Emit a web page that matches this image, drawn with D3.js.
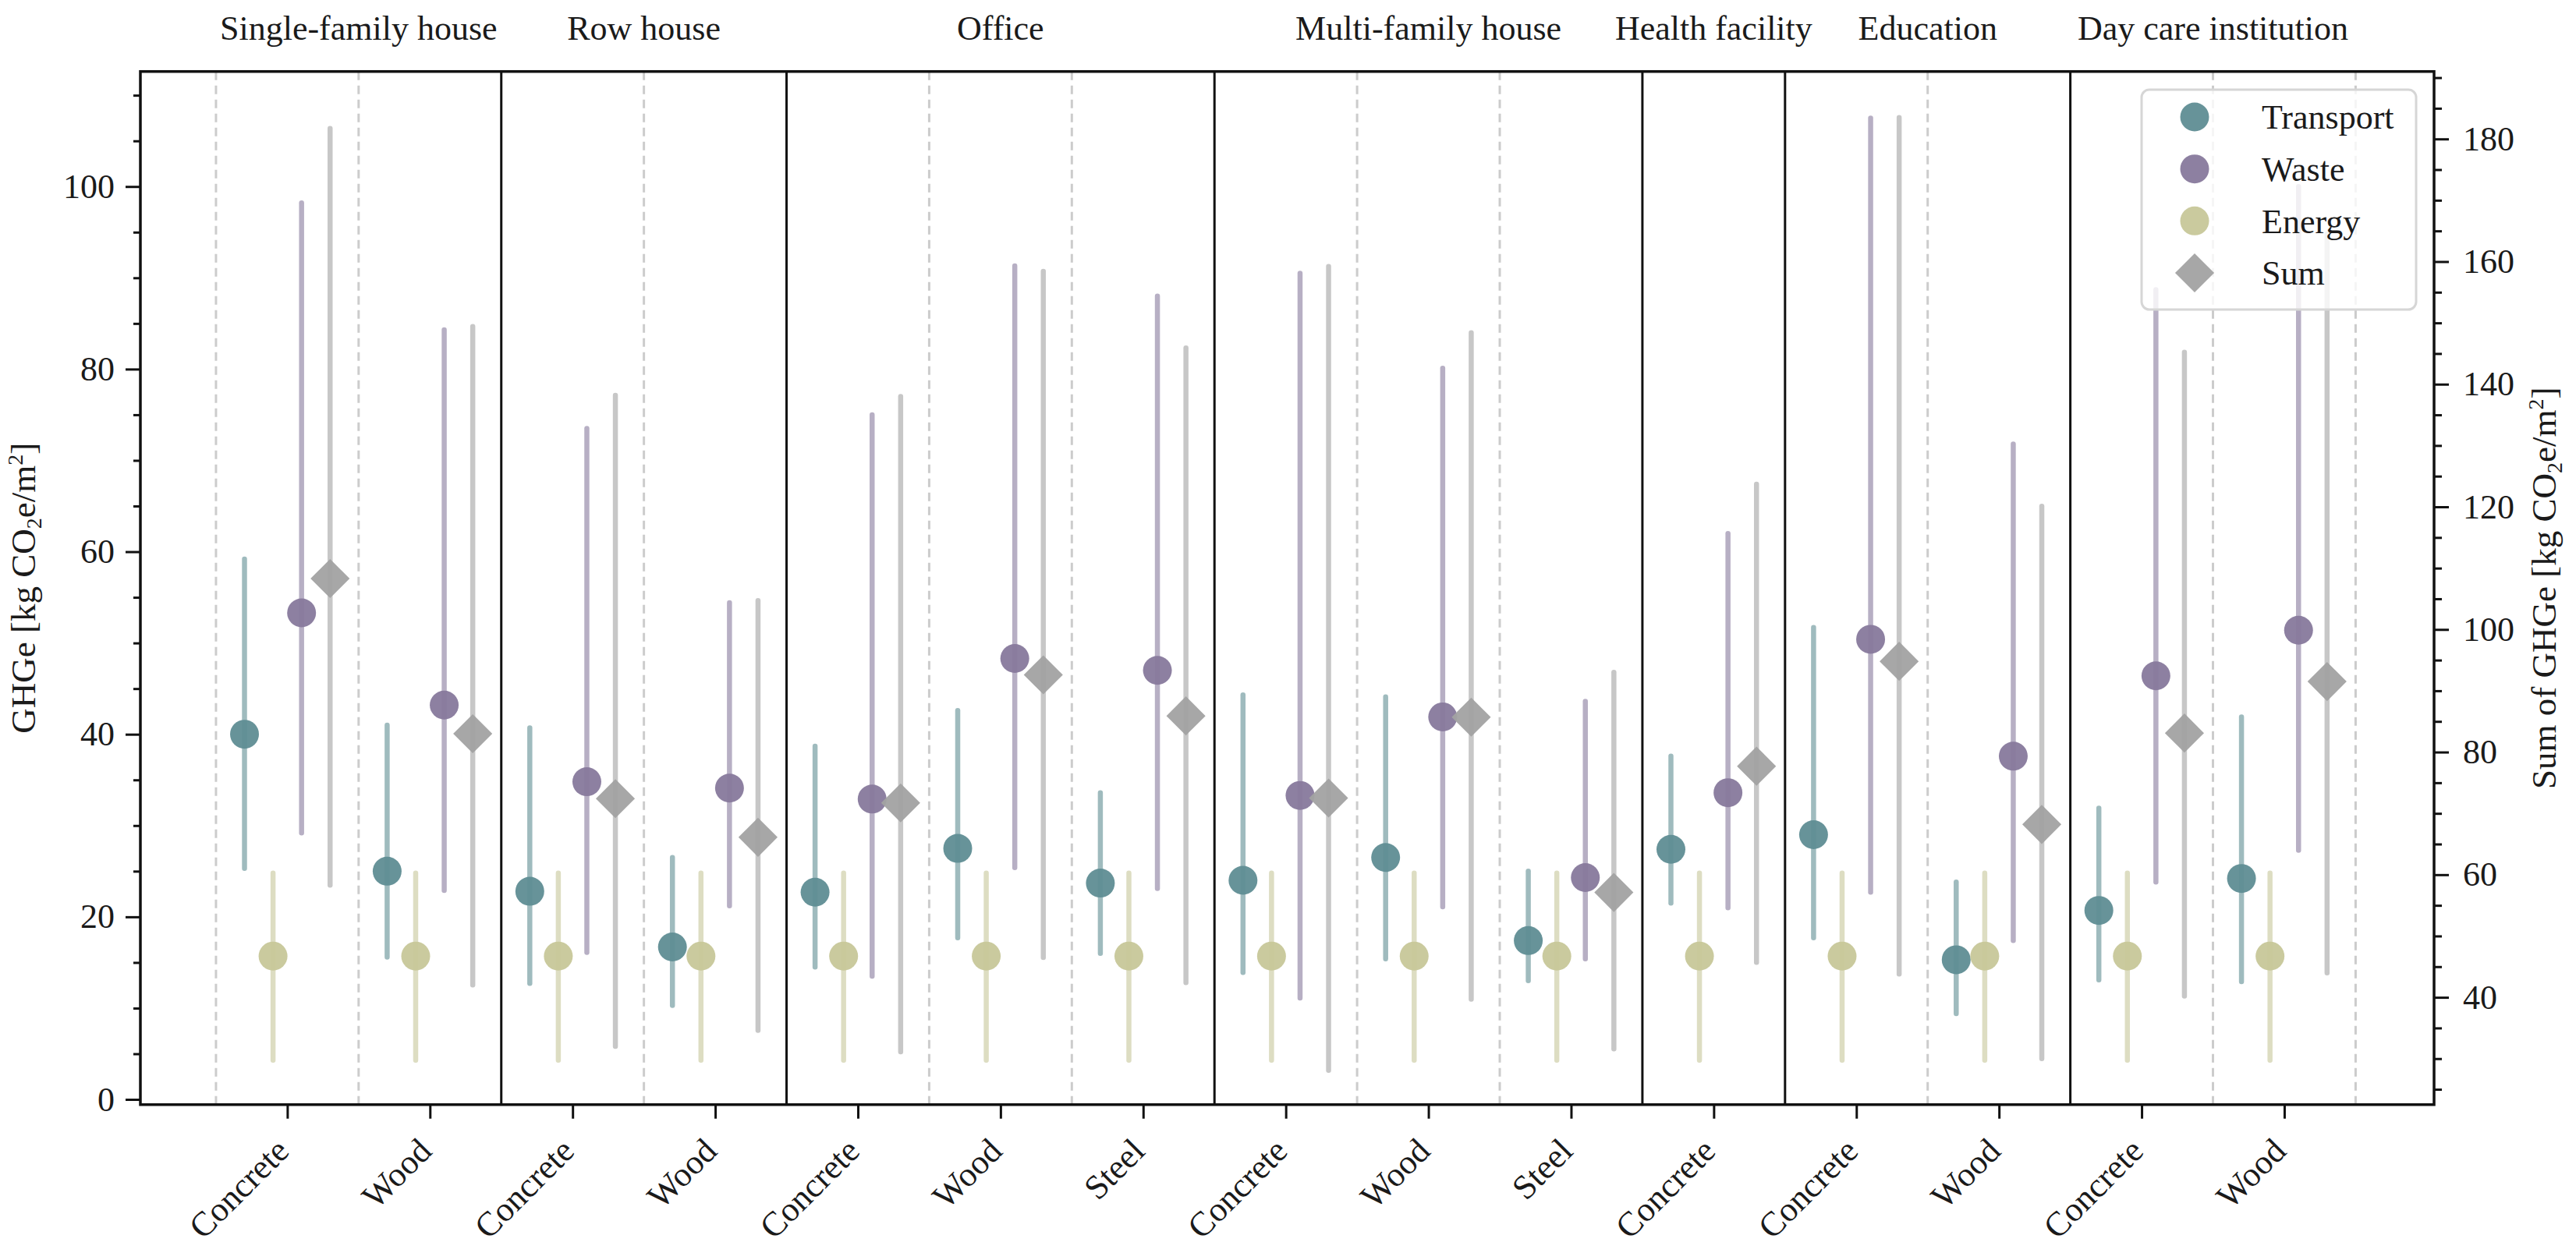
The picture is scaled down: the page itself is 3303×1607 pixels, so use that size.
<!DOCTYPE html>
<html>
<head>
<meta charset="utf-8">
<script src="https://cdn.jsdelivr.net/npm/d3@7"></script>
<style>
  body { margin: 0; background: #fff; }
  text { font-family: "Liberation Serif", "Times New Roman", serif; fill: #1a1a1a; }
</style>
</head>
<body>
<svg id="chart"></svg>
<script>
// building types and the materials under them
const groups = ["Single-family house", "Row house", "Office", "Multi-family house",
  "Health facility", "Education", "Day care institution"];
const groupSizes = [2, 2, 3, 3, 1, 2, 2];
const materials = ["Concrete", "Wood", "Concrete", "Wood", "Concrete", "Wood", "Steel",
  "Concrete", "Wood", "Steel", "Concrete", "Concrete", "Wood", "Concrete", "Wood"];

// transport, waste, energy on the left axis (kg CO2e/m2)
const transportMid  = [40.0, 25.0, 22.8, 16.7, 22.7, 27.5, 23.7, 24.0, 26.5, 17.4, 27.4, 29.0, 15.3, 20.7, 24.2];
const transportLow  = [25.3, 15.6, 12.7, 10.3, 14.5, 17.7, 16.0, 13.9, 15.4, 13.0, 21.5, 17.7, 9.4, 13.1, 12.9];
const transportHigh = [59.2, 41.0, 40.7, 26.5, 38.7, 42.6, 33.6, 44.3, 44.1, 25.0, 37.6, 51.7, 23.8, 31.9, 41.9];

const wasteMid  = [53.3, 43.2, 34.8, 34.1, 32.9, 48.3, 47.0, 33.3, 41.9, 24.3, 33.6, 50.4, 37.6, 46.4, 51.4];
const wasteLow  = [29.2, 22.9, 16.1, 21.2, 13.5, 25.4, 23.1, 11.1, 21.1, 15.4, 21.0, 22.7, 17.4, 23.8, 27.3];
const wasteHigh = [98.2, 84.3, 73.5, 54.4, 75.0, 91.3, 88.0, 90.5, 80.1, 43.6, 62.0, 107.5, 71.8, 88.7, 100.0];

const energyMid  = [15.7, 15.7, 15.7, 15.7, 15.7, 15.7, 15.7, 15.7, 15.7, 15.7, 15.7, 15.7, 15.7, 15.7, 15.7];
const energyLow  = [4.3, 4.3, 4.3, 4.3, 4.3, 4.3, 4.3, 4.3, 4.3, 4.3, 4.3, 4.3, 4.3, 4.3, 4.3];
const energyHigh = [24.8, 24.8, 24.8, 24.8, 24.8, 24.8, 24.8, 24.8, 24.8, 24.8, 24.8, 24.8, 24.8, 24.8, 24.8];

// sum on the right axis
const sumMid  = [108.3, 83.0, 72.4, 66.1, 71.7, 92.6, 85.9, 72.5, 85.7, 57.1, 77.7, 94.8, 68.2, 83.1, 91.5];
const sumLow  = [58.3, 42.0, 32.0, 34.6, 31.1, 46.5, 42.4, 28.1, 39.7, 31.6, 45.7, 43.8, 30.0, 40.2, 44.0];
const sumHigh = [181.7, 149.4, 138.2, 104.7, 138.0, 158.4, 145.9, 159.2, 148.4, 93.0, 123.7, 183.5, 120.1, 145.2, 164.5];

const leftTicks = [0, 20, 40, 60, 80, 100];
const leftMinor = [5, 10, 15, 25, 30, 35, 45, 50, 55, 65, 70, 75, 85, 90, 95, 105, 110];
const rightTicks = [40, 60, 80, 100, 120, 140, 160, 180];
const rightMinor = [25, 30, 35, 45, 50, 55, 65, 70, 75, 85, 90, 95, 105, 110, 115, 125, 130, 135, 145, 150, 155, 165, 170, 175, 185, 190];

const width = 3303;
const height = 1607;
const plotLeft = 180, plotRight = 3121, plotTop = 91.7, plotBottom = 1416.7;

const svg = d3.select("#chart").attr("width", width).attr("height", height);

const x = d3.scaleLinear().domain([-1.03, 15.05]).range([plotLeft, plotRight]);
const yL = d3.scaleLinear().domain([-0.57, 112.6]).range([plotBottom, plotTop]);
const yR = d3.scaleLinear().domain([22.5, 191.0]).range([plotBottom, plotTop]);

// series: offset inside a category, colours, which axis
const series = [
  { name: "Transport", mid: transportMid, low: transportLow, high: transportHigh, off: -0.3, color: "#5f8d93", y: yL, shape: "circle" },
  { name: "Waste", mid: wasteMid, low: wasteLow, high: wasteHigh, off: 0.1, color: "#87799c", y: yL, shape: "circle" },
  { name: "Energy", mid: energyMid, low: energyLow, high: energyHigh, off: -0.1, color: "#c7c799", y: yL, shape: "circle" },
  { name: "Sum", mid: sumMid, low: sumLow, high: sumHigh, off: 0.3, color: "#a2a2a2", y: yR, shape: "diamond" }
];

// category boundaries, solid where a building type ends
const groupEnds = [];
let acc = 0;
groupSizes.forEach((n) => { acc += n; groupEnds.push(acc); });
const bounds = d3.range(materials.length + 1).map((i) => ({
  pos: i - 0.5,
  solid: i > 0 && i < materials.length && groupEnds.includes(i)
}));

svg.append("g")
  .selectAll("line")
  .data(bounds)
  .join("line")
  .attr("x1", (d) => x(d.pos))
  .attr("x2", (d) => x(d.pos))
  .attr("y1", plotTop)
  .attr("y2", plotBottom)
  .attr("stroke", (d) => (d.solid ? "#111" : "#cccccc"))
  .attr("stroke-width", 3)
  .attr("stroke-dasharray", (d) => (d.solid ? null : "11,7"));

// range bars
series.forEach((s) => {
  svg.append("g")
    .selectAll("line")
    .data(materials.map((m, i) => i))
    .join("line")
    .attr("x1", (i) => x(i + s.off))
    .attr("x2", (i) => x(i + s.off))
    .attr("y1", (i) => s.y(s.low[i]))
    .attr("y2", (i) => s.y(s.high[i]))
    .attr("stroke", s.color)
    .attr("stroke-opacity", 0.6)
    .attr("stroke-width", 6.5)
    .attr("stroke-linecap", "round");
});

// markers
const diamond = d3.symbol().type(d3.symbolDiamond2).size(1600);
function drawMarker(sel, s) {
  if (s.shape === "circle") {
    sel.append("circle").attr("r", 18.5).attr("fill", s.color).attr("fill-opacity", 0.95);
  } else {
    sel.append("path").attr("d", diamond).attr("fill", s.color).attr("fill-opacity", 0.95);
  }
}
series.forEach((s) => {
  svg.append("g")
    .selectAll("g")
    .data(materials.map((m, i) => i))
    .join("g")
    .attr("transform", (i) => `translate(${x(i + s.off)},${s.y(s.mid[i])})`)
    .each(function () { drawMarker(d3.select(this), s); });
});

// axes
function styleAxis(g) {
  g.select(".domain").remove();
  g.selectAll(".tick line").attr("stroke", "#111").attr("stroke-width", 3);
  g.selectAll("text").attr("font-size", 44).attr("font-family", "Liberation Serif, Times New Roman, serif").attr("fill", "#1a1a1a");
}

svg.append("g").attr("transform", `translate(${plotLeft},0)`)
  .call(d3.axisLeft(yL).tickValues(leftMinor).tickSize(9).tickFormat(""))
  .call(styleAxis);
svg.append("g").attr("transform", `translate(${plotLeft},0)`)
  .call(d3.axisLeft(yL).tickValues(leftTicks).tickSize(19).tickPadding(14))
  .call(styleAxis);

svg.append("g").attr("transform", `translate(${plotRight},0)`)
  .call(d3.axisRight(yR).tickValues(rightMinor).tickSize(10).tickFormat(""))
  .call(styleAxis);
svg.append("g").attr("transform", `translate(${plotRight},0)`)
  .call(d3.axisRight(yR).tickValues(rightTicks).tickSize(19).tickPadding(18))
  .call(styleAxis);

const xAxis = svg.append("g").attr("transform", `translate(0,${plotBottom})`)
  .call(d3.axisBottom(x).tickValues(materials.map((m, i) => i)).tickSize(18).tickFormat((i) => materials[i]))
  .call(styleAxis);
xAxis.selectAll("text")
  .attr("text-anchor", "end")
  .attr("dy", null)
  .attr("y", 0)
  .attr("transform", "translate(4,62) rotate(-45)");

// frame
svg.append("rect")
  .attr("x", plotLeft).attr("y", plotTop)
  .attr("width", plotRight - plotLeft).attr("height", plotBottom - plotTop)
  .attr("fill", "none").attr("stroke", "#111").attr("stroke-width", 3.5);

// building type titles
let start = 0;
const titlePos = groupSizes.map((n) => { const c = start + (n - 1) / 2; start += n; return c; });
svg.append("g")
  .selectAll("text")
  .data(groups)
  .join("text")
  .attr("x", (d, i) => x(titlePos[i]))
  .attr("y", 51)
  .attr("text-anchor", "middle")
  .attr("font-size", 44)
  .text((d) => d);

// axis titles
function unitLabel(sel, prefix) {
  sel.append("tspan").text(prefix + "[kg CO");
  sel.append("tspan").attr("font-size", 28).attr("dy", 8).text("2");
  sel.append("tspan").attr("dy", -8).text("e/m");
  sel.append("tspan").attr("font-size", 28).attr("dy", -16).text("2");
  sel.append("tspan").attr("dy", 16).text("]");
}
svg.append("text")
  .attr("transform", `translate(45,${(plotTop + plotBottom) / 2}) rotate(-90)`)
  .attr("text-anchor", "middle")
  .attr("font-size", 45)
  .call(unitLabel, "GHGe ");
svg.append("text")
  .attr("transform", `translate(3277,${(plotTop + plotBottom) / 2}) rotate(-90)`)
  .attr("text-anchor", "middle")
  .attr("font-size", 45)
  .call(unitLabel, "Sum of GHGe ");

// legend
const legendOrder = ["Transport", "Waste", "Energy", "Sum"];
const legend = svg.append("g");
legend.append("rect")
  .attr("x", 2746).attr("y", 115).attr("width", 352).attr("height", 282)
  .attr("rx", 10)
  .attr("fill", "#fff").attr("fill-opacity", 0.8)
  .attr("stroke", "#d6d6d6").attr("stroke-width", 3);
const rowY = d3.scaleLinear().domain([0, 3]).range([150, 350]);
const items = legend.selectAll("g.item")
  .data(legendOrder.map((n) => series.find((s) => s.name === n)))
  .join("g")
  .attr("class", "item")
  .attr("transform", (d, i) => `translate(2814,${rowY(i)})`);
items.each(function (s) { drawMarker(d3.select(this), s); });
items.append("text")
  .attr("x", 86)
  .attr("dy", "0.35em")
  .attr("font-size", 44)
  .text((s) => s.name);
</script>
</body>
</html>
